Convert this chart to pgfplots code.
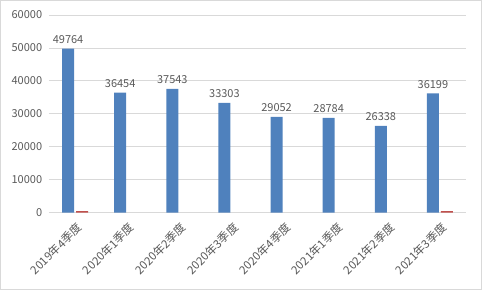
\documentclass[border=0pt]{standalone}
\usepackage{pgfplots}
\pgfplotsset{compat=1.18}
\usepackage{fontspec}
\setmainfont{Noto Sans CJK SC}
\definecolor{barblue}{HTML}{4F81BD}
\definecolor{barred}{HTML}{C0504D}
\definecolor{txt}{HTML}{595959}
\definecolor{gridc}{HTML}{D9D9D9}
\begin{document}
\begin{tikzpicture}[x=1pt,y=1pt]
\fontsize{11}{13}\selectfont
\path[use as bounding box] (0,0) rectangle (482,290);
\draw[gridc, line width=1pt] (0.5,0.5) rectangle (481.5,289.5);
\begin{axis}[
  at={(49pt,77.5pt)}, anchor=south west,
  scale only axis, width=417pt, height=197.5pt,
  ymin=0, ymax=60000, ytick={0,10000,...,60000},
  xmin=-0.5, xmax=7.5,
  xtick={0,...,7},
  xticklabels={2019年4季度,2020年1季度,2020年2季度,2020年3季度,2020年4季度,2021年1季度,2021年2季度,2021年3季度},
  xticklabel style={xshift=5.5pt, yshift=-12pt, rotate=45, anchor=east, font=\fontsize{11.5}{13}\selectfont, text=txt, inner sep=1pt},
  yticklabel style={font=\fontsize{11}{13}\selectfont, text=txt, xshift=-3pt},
  /pgf/number format/assume math mode=true,
  /pgf/number format/1000 sep={},
  scaled y ticks=false,
  major tick length=0pt,
  axis line style={draw=none},
  ymajorgrids, grid style={gridc, line width=0.8pt},
  ybar=2pt, bar width=12pt,
  clip=false,
]
\addplot[fill=barblue, draw=none, nodes near coords, every node near coord/.append style={font=\fontsize{11}{13}\selectfont, text=txt, yshift=1pt}] coordinates {
(0,49764) (1,36454) (2,37543) (3,33303) (4,29052) (5,28784) (6,26338) (7,36199)};
\addplot[fill=barred, draw=none] coordinates {(0,400) (7,400)};
\end{axis}
\end{tikzpicture}
\end{document}
